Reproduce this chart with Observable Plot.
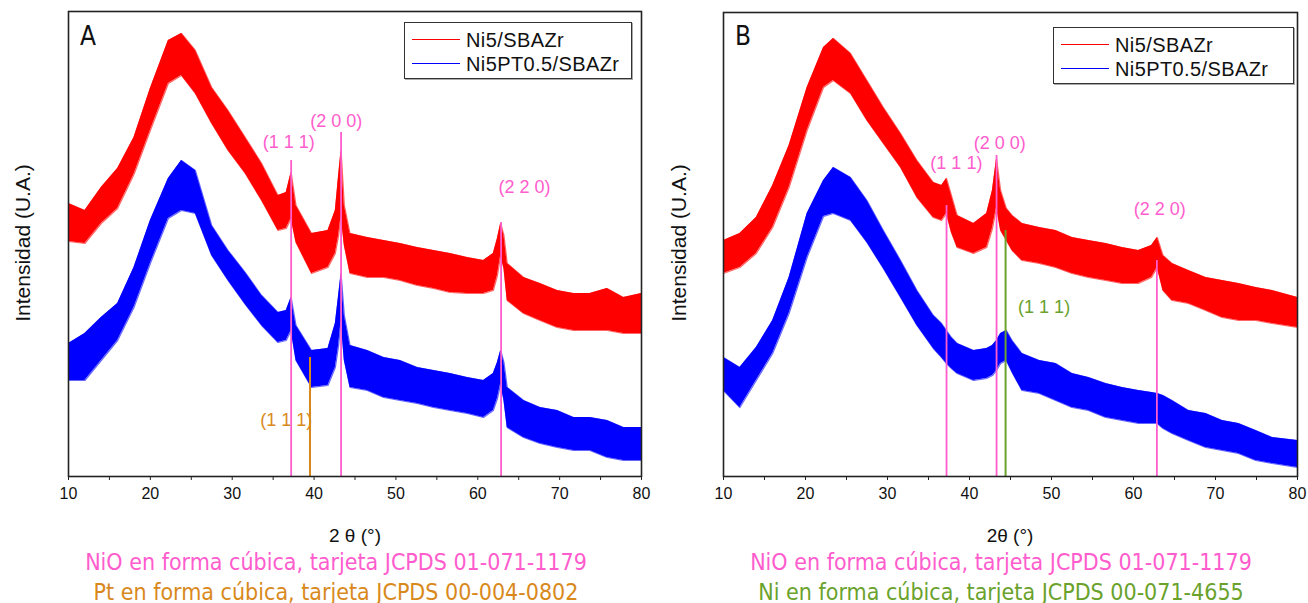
<!DOCTYPE html>
<html><head><meta charset="utf-8">
<script src="https://cdn.jsdelivr.net/npm/d3@7"></script>
<script src="https://cdn.jsdelivr.net/npm/@observablehq/plot@0.6"></script>
<style>
body{margin:0;background:#fff;}
#wrap{position:relative;width:1308px;height:603px;overflow:hidden;font-family:"Liberation Sans",Arial,sans-serif;color:#111;}
.panel{position:absolute;top:0;}
.abs{position:absolute;white-space:nowrap;}
.ctr{transform:translate(-50%,-50%);}
.cap{font-family:"DejaVu Sans Condensed","DejaVu Sans",sans-serif;font-size:23px;line-height:1;}
.ylab{font-size:21px;transform:translate(-50%,-50%) rotate(-90deg);line-height:1;}
.xlab{font-size:19px;line-height:1;}
.letter{font-family:"DejaVu Sans Condensed","DejaVu Sans",sans-serif;font-size:26px;line-height:1;}
.leg{border:1px solid #333;box-shadow:1px 1px 0 #aaa;background:#fff;}
.legtxt{font-size:20px;line-height:1;transform:translateY(-50%);letter-spacing:0.4px;}
</style>
</head><body>
<div id="wrap"></div>
<script>
// ---------- Panel A data (2θ in degrees, intensity band in a.u.) ----------
const thetaA = [10,12,14,16,18,20,22.2,23.8,25.5,27.5,29.5,31.6,33.6,35.6,36.6,37.2,37.8,39.7,41.7,42.6,43.0,43.3,43.7,44.4,46.5,48.5,50.5,52.6,54.6,56.6,58.7,60.7,61.9,62.4,62.8,63.2,63.6,65.6,67.6,69.7,71.7,73.7,75.8,77.8,80];
const ni5A_hi = [273,266,289,308,339,388,436,443,426,389,366,339,313,281,284,304,271,243,246,266,301,326,271,243,239,236,233,229,226,223,219,216,223,238,253,241,213,199,193,186,183,183,188,179,183];
const ni5A_lo = [235,233,253,268,302,346,393,401,383,353,326,303,276,246,248,258,234,203,209,223,241,261,231,203,199,199,196,191,188,184,183,183,186,201,221,208,176,163,156,149,146,146,146,143,143];
const ni5ptA_hi = [133,143,159,173,209,256,298,316,306,251,226,204,181,164,166,179,151,126,128,153,181,203,161,131,126,119,116,109,106,103,99,96,103,114,126,114,89,76,69,66,59,59,56,49,49];
const ni5ptA_lo = [96,96,116,136,169,213,258,266,263,221,196,172,151,134,136,146,116,89,91,109,131,156,116,89,86,79,76,73,69,66,63,59,66,78,93,76,49,39,33,29,26,26,19,16,16];

// ---------- Panel B data ----------
const thetaB = [10,12,14,16,18,20.2,22.2,23.4,25.5,27.5,29.5,31.6,33.6,35.6,36.6,37.2,37.8,38.5,40.5,42.1,42.8,43.3,43.8,44.5,45.2,46.4,48.5,50.5,52.5,54.5,56.6,58.6,60.6,62.2,62.9,63.6,64.7,66.7,68.8,70.8,72.8,74.9,76.9,80];
const ni5B_hi = [236,243,259,291,331,389,429,438,423,396,369,343,316,294,291,298,281,261,253,263,286,318,286,268,261,253,249,246,239,236,233,229,226,231,239,221,213,206,199,196,193,189,186,179];
const ni5B_lo = [203,209,223,249,289,346,389,396,383,356,333,309,279,259,256,263,244,229,223,229,248,269,246,236,226,216,213,209,203,199,196,193,193,199,209,186,176,173,166,159,156,156,153,149];
const ni5ptB_hi = [119,109,129,156,199,263,296,309,299,276,246,216,186,161,153,146,139,133,126,128,131,136,143,146,136,123,116,113,103,99,93,89,86,84,83,81,76,66,63,56,53,46,39,36];
const ni5ptB_lo = [86,69,96,123,163,219,260,263,256,234,208,179,151,128,119,113,108,103,96,98,101,106,113,116,104,86,83,76,69,66,59,56,53,53,53,48,43,36,29,26,23,16,13,9];

// ---------- Reference cards ----------
const nioPeaks = [37.2, 43.3, 62.85];
const nioHkl = ["(1 1 1)", "(2 0 0)", "(2 2 0)"];
const nioTopA = [316, 344, 254];
const nioTopB = [271, 321, 216];
const ptPeaks = [39.5];
const ptTopA = [119];
const niPeaks = [44.4];
const niTopB = [246];

const series = ["Ni5/SBAZr", "Ni5PT0.5/SBAZr"];
const seriesColors = ["#ff0000", "#0000ff"];
const pink = "#ff5ccd", orange = "#d9891c", green = "#6aa22c";

// label anchor points (2θ, intensity)
const labelsA = [
  {t:"(1 1 1)", x:36.9, y:334, c:pink},
  {t:"(2 0 0)", x:42.7, y:355, c:pink},
  {t:"(2 2 0)", x:65.7, y:289, c:pink},
  {t:"(1 1 1)", x:36.6, y:56, c:orange}
];
const labelsB = [
  {t:"(1 1 1)", x:38.4, y:313, c:pink},
  {t:"(2 0 0)", x:43.7, y:333, c:pink},
  {t:"(2 2 0)", x:63.2, y:267, c:pink},
  {t:"(1 1 1)", x:49.1, y:169, c:green}
];

function band(theta, hi, lo){ return theta.map((t,i)=>({t, hi:hi[i], lo:lo[i]})); }

function panel(theta, redHi, redLo, blueHi, blueLo, rules, labels, opts){
  const red = band(theta, redHi, redLo), blue = band(theta, blueHi, blueLo);
  const marks = [];
  [[red, seriesColors[0]], [blue, seriesColors[1]]].forEach(([d,c])=>{
    marks.push(Plot.areaY(d, {x:"t", y1:"lo", y2:"hi", fill:c, curve:"linear"}));
    marks.push(Plot.line(d, {x:"t", y:"hi", stroke:c, strokeWidth:1.2, strokeOpacity:0.6}));
    marks.push(Plot.line(d, {x:"t", y:"lo", stroke:c, strokeWidth:1.2, strokeOpacity:0.6}));
  });
  rules.forEach(r=>{
    marks.push(Plot.ruleX(r.x.map((x,i)=>({x, top:r.top[i]})), {x:"x", y1:0, y2:"top", stroke:r.c, strokeWidth:r.w}));
  });
  marks.push(Plot.text(labels, {x:"x", y:"y", text:"t", fill:"c", fontSize:18, fontFamily:"Liberation Sans, Arial, sans-serif"}));
  marks.push(Plot.axisX({ticks:d3.range(10,81,5), tickFormat:d=> d%10===0 ? String(d) : "", tickSize:4, tickPadding:7, fontSize:16, label:null, stroke:"#222"}));
  marks.push(Plot.frame({stroke:"#222", strokeWidth:1.6}));
  return Plot.plot({
    width:opts.width, height:548,
    marginLeft:68, marginRight:opts.mr, marginTop:opts.mt, marginBottom:72,
    x:{domain:[10,80]},
    y:{domain:[0, opts.ymax], axis:null},
    style:{background:"transparent", fontFamily:"Liberation Sans, Arial, sans-serif", fontSize:"16px", color:"#111", overflow:"visible"},
    marks
  });
}

const wrap = document.getElementById("wrap");
const svgA = panel(thetaA, ni5A_hi, ni5A_lo, ni5ptA_hi, ni5ptA_lo,
  [{x:nioPeaks, top:nioTopA, c:pink, w:1.8},{x:ptPeaks, top:ptTopA, c:orange, w:2}],
  labelsA, {width:654, mr:13, mt:11, ymax:465});
svgA.classList.add("panel"); svgA.style.left="0px";
wrap.appendChild(svgA);
const svgB = panel(thetaB, ni5B_hi, ni5B_lo, ni5ptB_hi, ni5ptB_lo,
  [{x:nioPeaks, top:nioTopB, c:pink, w:1.8},{x:niPeaks, top:niTopB, c:green, w:2}],
  labelsB, {width:653, mr:11, mt:12, ymax:464});
svgB.classList.add("panel"); svgB.style.left="655px";
wrap.appendChild(svgB);

function add(html, cls, style){
  const d = document.createElement("div");
  d.className = "abs " + cls; d.innerHTML = html;
  Object.assign(d.style, style); wrap.appendChild(d); return d;
}
// panel letters
add("A", "letter", {left:"80px", top:"23px"});
add("B", "letter", {left:"735px", top:"23px"});
// y titles
add("Intensidad (U.A.)", "ylab", {left:"22px", top:"243px"});
add("Intensidad (U.A.)", "ylab", {left:"678px", top:"243px"});
// x titles
add("2 θ (°)", "xlab ctr", {left:"355px", top:"535px"});
add("2θ (°)", "xlab ctr", {left:"1010px", top:"535px"});
// captions
add("NiO en forma cúbica, tarjeta JCPDS 01-071-1179", "cap ctr", {left:"336px", top:"562px", color:pink});
add("Pt en forma cúbica, tarjeta JCPDS 00-004-0802", "cap ctr", {left:"336px", top:"592px", color:orange});
add("NiO en forma cúbica, tarjeta JCPDS 01-071-1179", "cap ctr", {left:"1001px", top:"562px", color:pink});
add("Ni en forma cúbica, tarjeta JCPDS 00-071-4655", "cap ctr", {left:"1001px", top:"592px", color:green});
// legends
function legend(x, y, w, h){
  add("", "leg", {left:x+"px", top:y+"px", width:w+"px", height:h+"px"});
  series.forEach((s,i)=>{
    const ly = y + 17 + i*24;
    add("", "", {left:(x+8)+"px", top:ly+"px", width:"48px", height:"0px", borderTop:"1px solid " + seriesColors[i]});
    add(s, "legtxt", {left:(x+62)+"px", top:(ly+1)+"px"});
  });
}
legend(404, 22, 226, 55);
legend(1053, 27, 239, 55);
</script>
</body></html>
